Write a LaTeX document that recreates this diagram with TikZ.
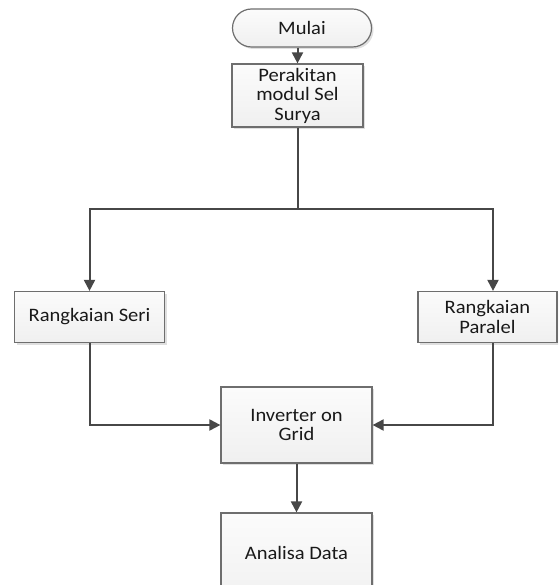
\documentclass[tikz,border=0pt]{standalone}
\usepackage{fontspec}
\setmainfont[FakeStretch=1.08]{Carlito}
\usetikzlibrary{arrows.meta,shadows,calc}
\definecolor{edge}{HTML}{6E6E6E}
\definecolor{wire}{HTML}{474747}
\tikzset{
  boxtext/.style={font=\fontsize{19}{19.5}\selectfont, text=black!90},
  box/.style={draw=edge, line width=1.2pt, top color=white!97!gray, bottom color=gray!12,
    drop shadow={shadow xshift=2pt, shadow yshift=-2pt, opacity=0.25, fill=gray},
    align=center, inner sep=0pt, boxtext},
  term/.style={box, rounded corners=19pt},
  wirestyle/.style={draw=wire, line width=2pt, -{Triangle[length=11pt,width=11pt]}},
  plainwire/.style={draw=wire, line width=2pt},
}
\begin{document}
\begin{tikzpicture}[x=1pt,y=-1pt]
\useasboundingbox (0,0) rectangle (558,585);
\begin{scope}
\clip (0,0) rectangle (558,585);
\node[term, minimum width=139pt, minimum height=38pt] (mulai) at (302,28) {Mulai};
\node[box, minimum width=131pt, minimum height=63pt] (perakitan) at (297.5,95.5) {Perakitan\\modul Sel\\Surya};
\node[box, minimum width=150pt, minimum height=51pt] (seri) at (89.5,317) {Rangkaian Seri};
\node[box, minimum width=139pt, minimum height=51pt] (paralel) at (487.5,317) {Rangkaian\\Paralel};
\node[box, minimum width=151pt, minimum height=76pt] (inverter) at (296.5,425) {Inverter on\\Grid};
\node[box, minimum width=151pt, minimum height=100pt] (analisa) at (296.5,563) {};
\node[boxtext] (analisatext) at (296.5,553) {Analisa Data};
\coordinate (j) at (297.5,209);
\coordinate (pin) at (493,0);
\draw[wirestyle] (mulai.south -| perakitan.north) -- (perakitan.north);
\draw[plainwire] (perakitan.south) -- (j);
\draw[wirestyle] (j) -| (seri.north);
\draw[wirestyle] (j) -| (pin |- paralel.north);
\draw[wirestyle] (seri.south) |- (inverter.west);
\draw[wirestyle] (pin |- paralel.south) |- (inverter.east);
\draw[wirestyle] (inverter.south) -- (analisa.north);
\end{scope}
\end{tikzpicture}
\end{document}
